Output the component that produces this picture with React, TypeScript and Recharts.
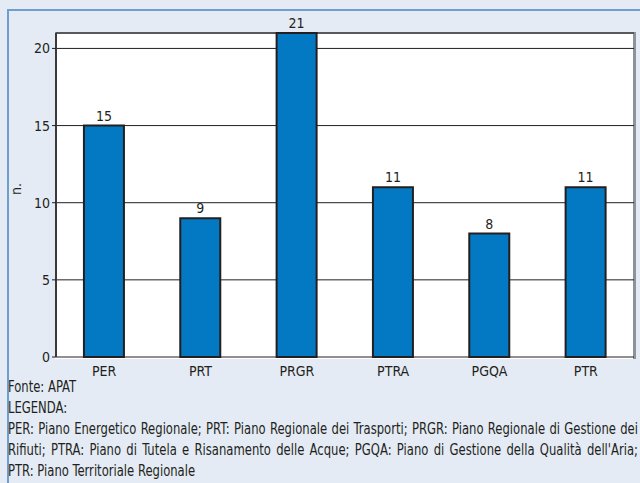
import React from "react";
import {
  BarChart,
  Bar,
  XAxis,
  YAxis,
  CartesianGrid,
  LabelList,
} from "recharts";

const categories = ["PER", "PRT", "PRGR", "PTRA", "PGQA", "PTR"];
const counts = [15, 9, 21, 11, 8, 11];
const yTicks = [0, 5, 10, 15, 20];
const boundaryTicks = [0, 1, 2, 3, 4, 5, 6];

const legendLines = [
  "PER: Piano Energetico Regionale; PRT: Piano Regionale dei Trasporti; PRGR: Piano Regionale di Gestione dei",
  "Rifiuti; PTRA: Piano di Tutela e Risanamento delle Acque; PGQA: Piano di Gestione della Qualità dell'Aria;",
  "PTR: Piano Territoriale Regionale",
];

const FONT = "'Liberation Sans Narrow', 'DejaVu Sans Condensed', 'Roboto Condensed', sans-serif";
const INK = "#231f20";
const SQUEEZE = 0.86;

export default function App() {
  const data = categories.map((c, i) => ({ name: c, value: counts[i] }));

  return (
    <div
      style={{
        position: "absolute",
        left: 0,
        top: 0,
        width: 640,
        height: 483,
        overflow: "hidden",
        background: "#e4ebf5",
        fontFamily: FONT,
      }}
    >
      {/* panel border */}
      <div
        style={{
          position: "absolute",
          left: 7,
          top: 9,
          width: 640,
          height: 480,
          borderTop: "2px solid #6f9fd0",
          borderLeft: "2px solid #6f9fd0",
        }}
      />
      {/* plot frame */}
      <div
        style={{
          position: "absolute",
          left: 55,
          top: 32,
          width: 578,
          height: 325,
          background: "#fff",
          borderTop: "2px solid #8c949b",
          borderRight: "3px solid #8c949b",
        }}
      />
      <div style={{ position: "absolute", left: 0, top: 0 }}>
        <BarChart
          width={640}
          height={380}
          data={data}
          margin={{ top: 33, right: 6, bottom: 0, left: 0 }}
          barCategoryGap="29%"
        >
          <CartesianGrid vertical={false} stroke={INK} strokeWidth={1} />
          <XAxis
            xAxisId="b"
            type="number"
            domain={[0, 6]}
            ticks={boundaryTicks}
            tickFormatter={() => ""}
            axisLine={{ stroke: INK, strokeWidth: 1.5 }}
            tickLine={{ stroke: INK }}
            tickSize={4}
            height={0}
          />
          <XAxis
            dataKey="name"
            axisLine={false}
            tickLine={false}
            tick={{ fill: INK, fontSize: 14, fontFamily: FONT }}
            tickMargin={3}
            height={23}
            interval={0}
          />
          <YAxis
            domain={[0, 21]}
            ticks={yTicks}
            width={56}
            axisLine={{ stroke: "#3a3a3a", strokeWidth: 2 }}
            tickLine={{ stroke: INK }}
            tickSize={4}
            tick={{ fill: INK, fontSize: 14, fontFamily: FONT }}
            label={{
              value: "n.",
              angle: -90,
              position: "insideLeft",
              offset: 16,
              fill: INK,
              fontSize: 14,
              fontFamily: FONT,
            }}
          />
          <Bar
            dataKey="value"
            fill="#0479c3"
            stroke="#231f20"
            strokeWidth={2}
            isAnimationActive={false}
          >
            <LabelList
              dataKey="value"
              position="top"
              offset={5}
              fill={INK}
              fontSize={14}
              fontFamily={FONT}
            />
          </Bar>
        </BarChart>
      </div>
      <div
        style={{
          position: "absolute",
          left: 8,
          top: 377,
          width: 630 / SQUEEZE,
          transform: `scaleX(${SQUEEZE})`,
          transformOrigin: "left top",
          fontSize: 15,
          lineHeight: "21px",
          color: INK,
          whiteSpace: "nowrap",
        }}
      >
        <div>Fonte: APAT</div>
        <div>LEGENDA:</div>
        {legendLines.map((l, i) => (
          <div
            key={i}
            style={
              i < 2
                ? { whiteSpace: "normal", textAlign: "justify", textAlignLast: "justify" }
                : undefined
            }
          >
            {l}
          </div>
        ))}
      </div>
    </div>
  );
}
